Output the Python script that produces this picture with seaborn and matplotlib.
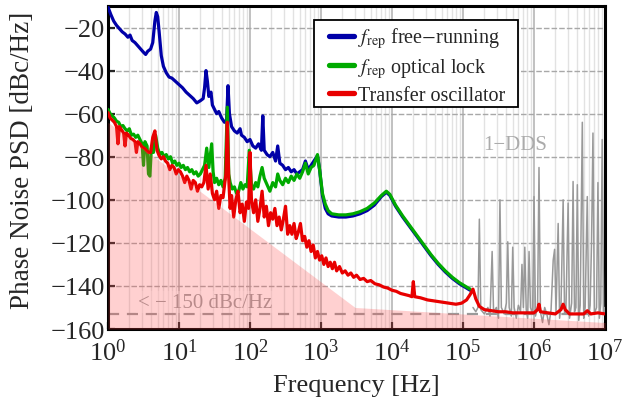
import matplotlib
matplotlib.use("Agg")
import matplotlib.pyplot as plt
import matplotlib.ticker as mticker
from matplotlib.patches import Rectangle
import numpy as np
import pandas as pd
import seaborn as sns

# values (log10 of frequency in Hz, PSD in dBc/Hz)
free_logf = [0.00, 0.04, 0.08, 0.12, 0.16, 0.20, 0.24, 0.28, 0.31, 0.34, 0.38, 0.42, 0.46, 0.50,
             0.53, 0.56, 0.60, 0.63, 0.66, 0.68, 0.70, 0.72, 0.75, 0.78, 0.82, 0.86, 0.90, 0.95,
             1.00, 1.05, 1.10, 1.15, 1.20, 1.25, 1.30, 1.34, 1.36, 1.38, 1.40, 1.42, 1.45, 1.47,
             1.50, 1.53, 1.56, 1.60, 1.64, 1.67, 1.69, 1.71, 1.74, 1.78, 1.82, 1.86, 1.88, 1.92,
             1.96, 2.00, 2.04, 2.08, 2.12, 2.16, 2.18, 2.20, 2.24, 2.28, 2.32, 2.36, 2.39, 2.42,
             2.46, 2.50, 2.54, 2.58, 2.62, 2.66, 2.70, 2.74, 2.78, 2.82, 2.86, 2.90, 2.95, 2.98,
             3.02, 3.06, 3.10, 3.15, 3.25, 3.35, 3.45, 3.55, 3.65, 3.75, 3.85, 3.92, 3.97, 4.05,
             4.15, 4.25, 4.35, 4.45, 4.55, 4.65, 4.75, 4.85, 4.95, 5.05, 5.10]
free_db = [-10.5, -14, -17, -19, -20.5, -22, -23, -24.5, -23.5, -26, -27, -28.5, -30, -31.5,
           -32.5, -31, -30, -27, -17, -13, -15, -22, -33, -38, -41, -43, -43.5, -45,
           -46.5, -48, -50, -51.5, -53, -55, -54, -53, -48, -40, -45, -52, -50, -56,
           -58, -60, -59, -62, -64, -63, -47, -60, -66, -68, -69, -67, -70, -71,
           -73, -72, -75, -76, -74, -77, -61, -77, -79, -80, -78, -82, -75, -83,
           -84, -86, -85, -87, -86, -88, -87, -86, -82, -86, -84, -82, -79.5, -86,
           -98, -104, -106.5, -107.5, -108, -108, -107.5, -106.5, -105, -102.5, -98.5, -96.5, -98, -103,
           -108, -112.5, -117, -121.5, -126, -130, -133.5, -136.5, -139, -141, -142]

lock_logf = [0.00, 0.03, 0.06, 0.09, 0.12, 0.15, 0.18, 0.21, 0.24, 0.27, 0.30, 0.33, 0.36, 0.39,
             0.42, 0.45, 0.48, 0.50, 0.52, 0.55, 0.57, 0.59, 0.61, 0.64, 0.67, 0.70, 0.73, 0.76,
             0.79, 0.82, 0.85, 0.88, 0.91, 0.94, 0.97, 1.00, 1.03, 1.06, 1.09, 1.12, 1.15, 1.18,
             1.21, 1.24, 1.27, 1.30, 1.33, 1.36, 1.39, 1.42, 1.46, 1.48, 1.50, 1.53, 1.56, 1.59,
             1.62, 1.65, 1.68, 1.70, 1.72, 1.75, 1.78, 1.81, 1.84, 1.87, 1.90, 1.93, 1.96, 1.99,
             2.02, 2.05, 2.08, 2.11, 2.14, 2.17, 2.20, 2.24, 2.28, 2.32, 2.36, 2.39, 2.42, 2.46,
             2.50, 2.54, 2.58, 2.62, 2.66, 2.70, 2.74, 2.78, 2.82, 2.86, 2.90, 2.95, 2.98, 3.02,
             3.06, 3.10, 3.15, 3.25, 3.35, 3.45, 3.55, 3.65, 3.75, 3.85, 3.92, 3.97, 4.05, 4.15,
             4.25, 4.35, 4.45, 4.55, 4.65, 4.75, 4.85, 4.95, 5.05, 5.10]
lock_db = [-58, -60, -61, -62, -63.5, -64, -66, -65.5, -67, -68, -67, -70, -69.5, -71,
           -70, -72, -74, -84, -73, -75, -88, -89, -76, -78, -70, -76, -79, -78,
           -80, -79, -81, -80, -83, -82, -84, -83, -85, -84, -86, -85, -87, -86,
           -88, -87, -89, -88, -86, -84, -76, -85, -74, -87, -92, -90, -93, -91,
           -94, -90, -57, -88, -92, -95, -94, -97, -96, -92, -95, -93, -94, -77,
           -93, -95, -92, -94, -89, -85, -90, -93, -96, -92, -94, -88, -91, -93,
           -90, -92, -89, -91, -88, -90, -87, -83, -88, -85, -84, -79, -86, -97,
           -102, -105, -106.5, -107, -107, -106.5, -105.5, -104, -101.5, -98, -96, -97.5, -102.5, -107.5,
           -112, -116.5, -121, -125.5, -129.5, -133, -136, -138.5, -140.5, -141.5]

transfer_logf = [0.00, 0.03, 0.06, 0.09, 0.12, 0.14, 0.16, 0.19, 0.22, 0.24, 0.26, 0.29, 0.32, 0.35,
                 0.38, 0.40, 0.42, 0.45, 0.48, 0.51, 0.54, 0.57, 0.60, 0.63, 0.66, 0.69, 0.72, 0.75,
                 0.78, 0.81, 0.84, 0.87, 0.90, 0.93, 0.96, 0.99, 1.02, 1.05, 1.08, 1.11, 1.14, 1.17,
                 1.20, 1.23, 1.26, 1.29, 1.32, 1.35, 1.38, 1.41, 1.44, 1.47, 1.50, 1.53, 1.56, 1.59,
                 1.62, 1.66, 1.68, 1.70, 1.72, 1.74, 1.77, 1.80, 1.83, 1.86, 1.89, 1.92, 1.95, 1.98,
                 2.00, 2.02, 2.05, 2.08, 2.11, 2.14, 2.17, 2.20, 2.23, 2.26, 2.29, 2.32, 2.35, 2.38,
                 2.41, 2.44, 2.47, 2.50, 2.53, 2.56, 2.59, 2.62, 2.65, 2.68, 2.71, 2.74, 2.77, 2.80,
                 2.83, 2.86, 2.89, 2.92, 2.95, 2.98, 3.01, 3.04, 3.07, 3.10, 3.13, 3.16, 3.19, 3.22,
                 3.26, 3.30, 3.34, 3.38, 3.42, 3.46, 3.50, 3.55, 3.60, 3.65, 3.70, 3.76, 3.82, 3.88,
                 3.94, 4.00, 4.06, 4.12, 4.18, 4.24, 4.28, 4.30, 4.32, 4.40, 4.50, 4.60, 4.70, 4.80,
                 4.90, 4.98, 5.05, 5.10, 5.14, 5.18, 5.23, 5.30, 5.40, 5.50, 5.60, 5.70, 5.80, 5.90,
                 6.00, 6.05, 6.07, 6.09, 6.20, 6.30, 6.38, 6.41, 6.44, 6.50, 6.60, 6.70, 6.75, 6.80,
                 6.90, 7.00]
transfer_db = [-59.5, -62, -63, -64, -66, -74, -66, -67.5, -69, -75, -69, -70, -71.5, -72,
               -73, -78, -73, -74, -75.5, -76, -77, -78, -78, -71, -68, -77, -79.5, -81,
               -80, -82, -83, -86, -84, -85, -88, -86, -87, -89, -92, -89, -91, -95,
               -91, -92, -96, -93, -94, -92, -84, -95, -88, -97, -100, -96, -104, -98,
               -99, -88, -64, -90, -104, -98, -108, -100, -96, -106, -102, -110, -101, -104,
               -78, -100, -106, -100, -110, -104, -96, -108, -103, -112, -106, -109, -104, -112,
               -108, -114, -109, -103, -116, -112, -116, -111, -118, -115, -111, -119, -117, -122,
               -119, -124, -121, -127, -124, -128, -126, -130, -127, -131, -129, -132, -129, -133,
               -131, -134, -133, -135, -134, -136, -135, -137, -136.5, -138, -137.5, -139, -139.5, -140.5,
               -141, -142, -142.5, -143.5, -144, -144.5, -145, -138, -145, -145.5, -146.5, -147, -147.5, -148,
               -148.5, -148, -146.5, -144, -141.5, -146, -149.5, -151, -151.5, -152, -152, -152.5, -152.5, -152.5,
               -152.5, -151, -148.5, -152, -152.5, -153, -151, -148.5, -151, -153, -153, -153, -151.5, -153,
               -152.5, -153]

dds_logf = [5.14, 5.18, 5.21, 5.23, 5.25, 5.30, 5.35, 5.38, 5.41, 5.43, 5.47, 5.50, 5.52, 5.54,
            5.58, 5.61, 5.63, 5.65, 5.68, 5.70, 5.72, 5.75, 5.78, 5.81, 5.83, 5.85, 5.87, 5.89,
            5.91, 5.93, 5.95, 5.98, 6.00, 6.02, 6.05, 6.07, 6.09, 6.12, 6.15, 6.18, 6.21, 6.24,
            6.27, 6.29, 6.31, 6.34, 6.36, 6.38, 6.41, 6.43, 6.45, 6.48, 6.50, 6.53, 6.55, 6.57,
            6.59, 6.61, 6.63, 6.65, 6.68, 6.70, 6.72, 6.75, 6.77, 6.79, 6.81, 6.83, 6.85, 6.88,
            6.90, 6.92, 6.94, 6.96, 6.98, 7.00]
dds_db = [-150, -152, -150, -109, -151, -153, -150, -154, -124, -152, -150, -155, -100, -150,
          -153, -148, -119.5, -150, -154, -122, -150, -155, -149, -152, -130, -150, -122, -151,
          -155, -124, -150, -153, -98.5, -154, -150, -85, -152, -157, -150, -153, -158, -151,
          -128, -123, -152, -111, -155, -149, -100, -153, -150, -101.5, -155, -148, -91.5, -152,
          -150, -93, -156, -149, -64, -155, -150, -98.5, -154, -149, -120, -69, -153, -150,
          -92, -155, -148, -72, -153, -150]

floor_logf = [0.0, 3.48, 7.0]
floor_db = [-64, -150, -157]
limit_db = -153

labels = [r"$f_{\mathrm{rep}}$ free$-$running", r"$f_{\mathrm{rep}}$ optical lock", "Transfer oscillator"]
colors = ["#0000a8", "#00aa00", "#e80000"]

sns.set_style("white")
plt.rcParams["font.family"] = ["Liberation Serif", "DejaVu Serif"]
plt.rcParams["mathtext.fontset"] = "stix"

fig = plt.figure(figsize=(6.24, 4.02), dpi=100)
ax = fig.add_axes([0.1731, 0.1791, 0.7965, 0.8035])

series = [(free_logf, free_db), (lock_logf, lock_db), (transfer_logf, transfer_db)]

df_dds = pd.DataFrame({"f": 10 ** np.array(dds_logf), "psd": dds_db})
sns.lineplot(data=df_dds, x="f", y="psd", color="#999999", lw=1.1, ax=ax, zorder=3)

for (lf, db), c, lab in zip(series, colors, labels):
    d = pd.DataFrame({"f": 10 ** np.array(lf), "psd": db})
    sns.lineplot(data=d, x="f", y="psd", color=c, lw=2.3, ax=ax, label=lab, zorder=4)

ax.axhline(limit_db, color="#9a9a9a", lw=1.6, ls=(0, (5, 3.5)), zorder=2)
ax.text(10 ** 0.42, -147.5, "< − 150 dBc/Hz", color="#a0a0a0", fontsize=15, va="center", ha="left",
        zorder=2, bbox=dict(facecolor="white", alpha=0.4, edgecolor="none", pad=1))
ax.text(10 ** 5.73, -74.5, "1−DDS", color="#ababab", fontsize=15, va="center", ha="center", zorder=2)

# pink floor overlays the traces
ax.fill_between(10 ** np.array(floor_logf), floor_db, -160, color="#ff4d4d", alpha=0.26, lw=0, zorder=5)

ax.set_xscale("log")
ax.set_xlim(1, 1e7)
ax.set_ylim(-160, -10)
ax.set_yticks(np.arange(-160, -19, 20))
ax.xaxis.set_major_locator(mticker.LogLocator(base=10, numticks=10))
ax.xaxis.set_minor_locator(mticker.LogLocator(base=10, subs=np.arange(2, 10), numticks=20))
ax.xaxis.set_major_formatter(mticker.LogFormatterMathtext())

ax.grid(True, which="major", axis="x", color="#b0b0b0", lw=1.1, zorder=0)
ax.grid(True, which="minor", axis="x", color="#e2e2e2", lw=1.0, zorder=0)
ax.grid(True, which="major", axis="y", color="#a8a8a8", lw=1.0, ls=(0, (4, 1.5)), zorder=0)
ax.set_axisbelow(True)

ax.tick_params(which="major", direction="in", length=5, width=1.6, labelsize=19, pad=2,
               bottom=True, left=True, top=False, right=False)
ax.tick_params(axis="x", which="major", pad=7)
ax.tick_params(which="minor", length=0)
for s in ax.spines.values():
    s.set_linewidth(2.2)
    s.set_color("black")

ax.set_xlabel("Frequency [Hz]", fontsize=19, labelpad=6)
ax.set_ylabel("Phase Noise PSD [dBc/Hz]", fontsize=19.5)
ax.yaxis.set_label_coords(-0.147, 0.525)

# legend: frame drawn as a box, entries placed inside it
ax.add_patch(Rectangle((0.4145, 0.6873), 0.4105, 0.2693, transform=ax.transAxes,
                       facecolor="white", edgecolor="black", lw=1.3, zorder=9))
handles, labs = ax.get_legend_handles_labels()
leg = ax.legend(handles, labs, loc="upper left", bbox_to_anchor=(0.4447, 0.94), borderaxespad=0,
                fontsize=14.5, handlelength=1.25, handletextpad=0.2, labelspacing=0.28,
                frameon=False, borderpad=0)
for h in leg.get_lines():
    h.set_linewidth(3.8)
    h.set_solid_capstyle("round")
leg.set_zorder(10)

fig.savefig("out.png", dpi=100)
